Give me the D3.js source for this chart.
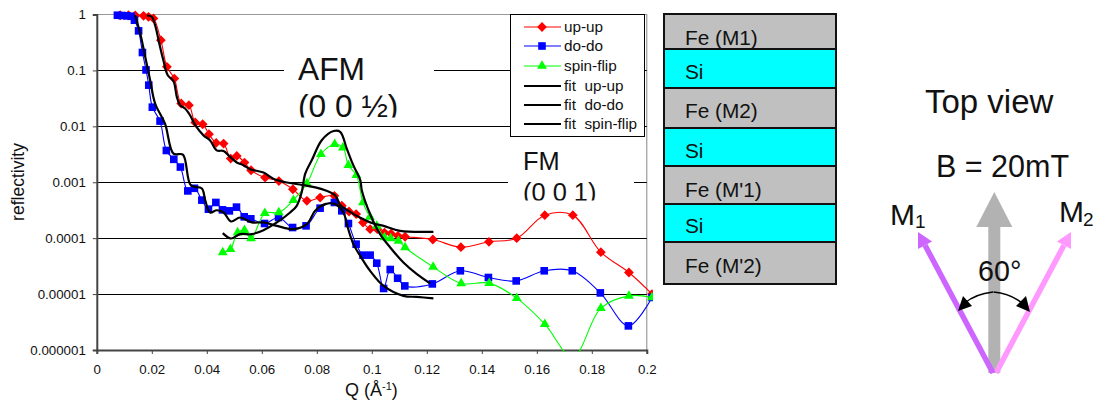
<!DOCTYPE html>
<html><head><meta charset="utf-8">
<script src="https://cdn.jsdelivr.net/npm/d3@7"></script>
<style>html,body{margin:0;padding:0;background:#fff}svg{display:block}text{font-family:"Liberation Sans",Arial,sans-serif;fill:#111}</style>
</head><body><svg id="c" width="1096" height="400"></svg>
<script>
const xTicks=[0,0.02,0.04,0.06,0.08,0.1,0.12,0.14,0.16,0.18,0.2];
const yTicks=[1,0.1,0.01,0.001,0.0001,0.00001,0.000001];
const yLabels=["1","0.1","0.01","0.001","0.0001","0.00001","0.000001"];
const seriesNames=["up-up","do-do","spin-flip","fit  up-up","fit  do-do","fit  spin-flip"];
const layerNames=["Fe (M1)","Si","Fe (M2)","Si","Fe (M'1)","Si","Fe (M'2)"];

const upQ=[.0085,.0115,.014,.017,.0188,.0206,.0233,.0255,.0282,.0307,.0335,.0358,.0385,.0408,.0434,.0461,.0487,.0509,.0537,.0561,.0612,.0662,.0713,.0764,.0812,.0864,.0891,.0917,.0943,.0968,.0994,.102,.1046,.107,.1095,.1121,.1222,.1324,.1426,.1527,.1629,.1731,.1833,.1935,.2019];
const upR=[.97,.97,.96,.946,.91,.85,.347,.116,.0716,.0256,.0239,.0117,.0109,.00723,.00506,.00492,.00265,.00296,.00225,.00164,.00121,.00105,.00075,.000465,.000533,.000571,.00038,.0003,.00027,.00019,.000145,.000145,.000126,.00012,.00011,.000106,.0000946,.000069,.000086,.0001,.000258,.000258,.0000562,.0000243,.00001];

const doQ=[.0075,.0091,.0109,.0125,.0137,.0152,.0166,.0179,.0189,.0202,.023,.0253,.028,.0304,.0331,.0355,.0382,.0406,.0433,.0457,.0482,.0508,.0536,.056,.061,.0661,.0712,.0761,.0812,.0864,.0891,.0915,.0943,.0968,.0994,.1018,.1043,.1067,.1094,.112,.122,.1322,.1424,.1525,.1627,.1729,.1831,.1933,.2019];
const doR=[.97,.96,.945,.93,.79,.51,.209,.102,.0545,.022,.0124,.0037,.00257,.00187,.0007,.00078,.000479,.00033,.000435,.000321,.000308,.000359,.000241,.000222,.000183,.000234,.000155,.000166,.000344,.000435,.000308,.000183,.0000781,.0000497,.0000497,.0000357,.0000126,.0000275,.0000192,.000014,.0000152,.0000261,.0000198,.0000172,.0000261,.0000261,.0000105,.0000027,.0000087];

const sfQ=[.0458,.0486,.0512,.0537,.0561,.0611,.0662,.0715,.0764,.0815,.0865,.0895,.0915,.0944,.0968,.0993,.1018,.1046,.1069,.1097,.1121,.1223,.1325,.1427,.1527,.1629,.1731,.1833,.1935,.2019];
const sfR=[.0000554,.0000635,.000126,.000139,.0000987,.00028,.000288,.000479,.00095,.00317,.00478,.00417,.00202,.00134,.000435,.000241,.000166,.000103,.0000987,.0000895,.0000681,.0000307,.0000155,.0000157,.00000845,.0000029,.00000075,.0000056,.0000093,.0000087];

const fitUpQ=[.0182,.02,.0212,.023,.0242,.0258,.0279,.0291,.0303,.0321,.0339,.0358,.0388,.0412,.0436,.0461,.0485,.0509,.0533,.0558,.0606,.0642,.0691,.0739,.0794,.083,.0867,.0885,.0915,.0946,.1006,.1043,.1103,.1224];
const fitUpR=[.96,.91,.644,.264,.152,.082,.064,.0337,.0238,.0208,.0158,.0105,.0069,.0056,.00372,.00362,.00284,.00226,.00202,.00171,.00149,.00116,.00099,.00091,.00081,.00072,.00058,.000394,.000308,.00025,.000183,.000166,.000135,.00013];

const fitDoQ=[.0139,.0158,.0176,.0194,.0212,.0248,.0279,.0313,.0342,.0382,.0394,.0412,.0436,.0461,.0488,.0521,.0564,.0606,.0655,.0715,.0764,.0794,.083,.0867,.0897,.0909,.0933,.0958,.0994,.1043,.1115,.1164,.1224];
const fitDoR=[.97,.457,.175,.0667,.0256,.0112,.00324,.00311,.00088,.00077,.00048,.000288,.000316,.000288,.000199,.000234,.000191,.000191,.000166,.000145,.000178,.000308,.000406,.000406,.000288,.000178,.0000781,.0000483,.000026,.000014,.0000093,.0000089,.0000084];

const fitSfQ=[.0458,.0488,.0521,.0564,.0606,.0655,.0703,.0727,.0745,.0758,.0782,.0818,.0861,.0885,.0909,.0933,.0958,.0964,.0994,.103,.1067,.1115,.1164,.1212];
const fitSfR=[.000123,.0000986,.000118,.000118,.000139,.000191,.000288,.000379,.00066,.00143,.00249,.00565,.00823,.008,.00398,.002,.00109,.000703,.000268,.000118,.0000681,.0000367,.0000227,.0000155];

const svg=d3.select("#c");
const x=d3.scaleLinear().domain([0,0.2]).range([96.8,646.8]);
const y=d3.scaleLog().domain([1,1e-6]).range([14.5,350]);
const defs=svg.append("defs");
const clip=(id,a,b,w,h)=>defs.append("clipPath").attr("id",id).append("rect").attr("x",a).attr("y",b).attr("width",w).attr("height",h);
clip("plot",90,8,563,344);
clip("afm",284,50,150,67.5);
clip("fm",508,148,126,52.5);

// frame + gridlines
svg.append("line").attr("x1",96.8).attr("x2",646.8).attr("y1",14.5).attr("y2",14.5).attr("stroke","#999").attr("stroke-width",1);
svg.append("line").attr("x1",646.8).attr("x2",646.8).attr("y1",14).attr("y2",350).attr("stroke","#888").attr("stroke-width",1);
svg.append("g").selectAll("line").data(yTicks.slice(1,-1)).join("line")
  .attr("x1",96.8).attr("x2",646.8).attr("y1",d=>Math.round(y(d))+.5).attr("y2",d=>Math.round(y(d))+.5)
  .attr("stroke","#000").attr("stroke-width",1);

// white text backings
svg.append("rect").attr("x",284).attr("y",50).attr("width",150).attr("height",67).attr("fill","#fff");
svg.append("rect").attr("x",508).attr("y",148).attr("width",126).attr("height",52).attr("fill","#fff");

// axes
const ax=svg.append("g").attr("transform","translate(0,350)").call(d3.axisBottom(x).tickValues(xTicks).tickFormat(d=>d===0?"0":String(d)).tickSize(4).tickPadding(11));
const ay=svg.append("g").attr("transform","translate(96.8,0)").call(d3.axisLeft(y).tickValues(yTicks).tickFormat((d,i)=>yLabels[i]).tickSize(4).tickPadding(7));
[ax,ay].forEach(g=>{g.selectAll("text").style("font-size","13.3px").style("font-family",'"Liberation Sans",Arial,sans-serif').attr("fill","#111");
  g.selectAll("line").attr("stroke","#444");g.select(".domain").attr("stroke","#444").attr("stroke-width",2);});

// data
const smooth=d3.line().curve(d3.curveCatmullRom.alpha(0.5));
const pts=(Q,R)=>Q.map((q,i)=>[x(q),y(R[i])]);
const plot=svg.append("g").attr("clip-path","url(#plot)");
const symDiamond=d3.symbol().type(d3.symbolSquare).size(48)();
const symSquare=d3.symbol().type(d3.symbolSquare).size(58)();
const symTri=d3.symbol().type(d3.symbolTriangle).size(42)();
function series(Q,R,col,sym,rot){
  const p=pts(Q,R);
  plot.append("path").attr("d",smooth(p)).attr("fill","none").attr("stroke",col).attr("stroke-width",1.1);
  plot.append("g").selectAll("path").data(p).join("path").attr("d",sym).attr("fill",col)
    .attr("transform",d=>`translate(${d[0]},${d[1]}) rotate(${rot})`);
}
function fit(Q,R){
  plot.append("path").attr("d",smooth(pts(Q,R))).attr("fill","none").attr("stroke","#000").attr("stroke-width",2.2).attr("stroke-linejoin","round");
}
series(upQ,upR,"#ff0000",symDiamond,45);
series(doQ,doR,"#0000ff",symSquare,0);
series(sfQ,sfR,"#00ff00",symTri,0);
fit(fitUpQ,fitUpR);fit(fitDoQ,fitDoR);fit(fitSfQ,fitSfR);

// axis titles
svg.append("text").attr("transform","translate(24,182) rotate(-90)").attr("text-anchor","middle").style("font-size","17.5px").text("reflectivity");
const xt=svg.append("text").attr("x",345).attr("y",396).style("font-size","18px");
xt.append("tspan").text("Q (Å");
xt.append("tspan").attr("dy",-6).style("font-size","11px").text("-1");
xt.append("tspan").attr("dy",6).text(")");

// annotations
const afm=svg.append("g").attr("clip-path","url(#afm)").style("font-size","31.7px");
afm.append("text").attr("x",298).attr("y",80).text("AFM");
afm.append("text").attr("x",298).attr("y",116.5).text("(0 0 ½)");
const fm=svg.append("g").attr("clip-path","url(#fm)").style("font-size","25.4px");
fm.append("text").attr("x",523).attr("y",170).text("FM");
fm.append("text").attr("x",523).attr("y",200.5).text("(0 0 1)");

// legend
const lg=svg.append("g");
lg.append("rect").attr("x",510.5).attr("y",14.5).attr("width",134).attr("height",122).attr("fill","#fff").attr("stroke","#000");
const lgY=[27,46,66,86,105,124];
const lgCol=["#ff0000","#0000ff","#00ff00","#000","#000","#000"];
const lgSym=[symDiamond,symSquare,symTri,null,null,null];
seriesNames.forEach((n,i)=>{
  lg.append("line").attr("x1",524).attr("x2",561).attr("y1",lgY[i]).attr("y2",lgY[i]).attr("stroke",lgCol[i]).attr("stroke-width",i<3?1:2);
  if(lgSym[i])lg.append("path").attr("d",lgSym[i]).attr("fill",lgCol[i]).attr("transform",`translate(542,${lgY[i]}) rotate(${i===0?45:0})`);
  lg.append("text").attr("x",564).attr("y",lgY[i]+5).style("white-space","pre").style("font-size","15.3px").text(n);
});

// layer stack
const layerTop=[14,49,88,128,166,204,242,284];
const layerBase=[45,79,118,158,197,233,273];
const st=svg.append("g");
const order=[0,2,4,6,1,3,5];
order.forEach(i=>{
  const si=layerNames[i]==="Si";
  st.append("rect").attr("x",664).attr("y",layerTop[i]).attr("width",172).attr("height",layerTop[i+1]-layerTop[i])
    .attr("fill",si?"#00ffff":"#c0c0c0").attr("stroke","#111").attr("stroke-width",2);
  st.append("text").attr("x",685).attr("y",layerBase[i]).style("font-size","20.8px").text(layerNames[i]);
});

// top view
const tv=svg.append("g");
tv.append("text").attr("x",925).attr("y",113).style("font-size","33px").text("Top view");
tv.append("text").attr("x",936).attr("y",177).style("font-size","30.5px").text("B = 20mT");
tv.append("path").attr("d","M988.3,373V227H976.3L994.3,192L1012.3,227H1000.3V373Z").attr("fill","#b2b2b2");
function arrow(x0,y0,x1,y1,col,w,hl,hw){
  const a=Math.atan2(y1-y0,x1-x0),c=Math.cos(a),s=Math.sin(a);
  const bx=x1-hl*c,by=y1-hl*s;
  tv.append("line").attr("x1",x0).attr("y1",y0).attr("x2",bx).attr("y2",by).attr("stroke",col).attr("stroke-width",w);
  tv.append("path").attr("d",`M${x1},${y1}L${bx-hw*s},${by+hw*c}L${bx+hw*s},${by-hw*c}Z`).attr("fill",col);
}
arrow(996,373,1071,232,"#ff99ff",5.5,15,8);
arrow(993,373,918,232,"#cc66ff",5.5,15,8);
tv.append("text").attr("x",890).attr("y",225).style("font-size","30px").text("M");
tv.append("text").attr("x",915).attr("y",228).style("font-size","19px").text("1");
tv.append("text").attr("x",1059).attr("y",222).style("font-size","30px").text("M");
tv.append("text").attr("x",1083).attr("y",226).style("font-size","19px").text("2");
tv.append("text").attr("x",978).attr("y",281).style("font-size","28.7px").text("60°");
tv.append("path").attr("d","M993,292Q975,294 965,303").attr("fill","none").attr("stroke","#000").attr("stroke-width",1.5);
tv.append("path").attr("d","M993.5,292Q1012,294 1023,304").attr("fill","none").attr("stroke","#000").attr("stroke-width",1.5);
tv.append("path").attr("d","M958,311L963,296L972,306Z").attr("fill","#000");
tv.append("path").attr("d","M1030,312L1016,306L1026,296Z").attr("fill","#000");
</script></body></html>
